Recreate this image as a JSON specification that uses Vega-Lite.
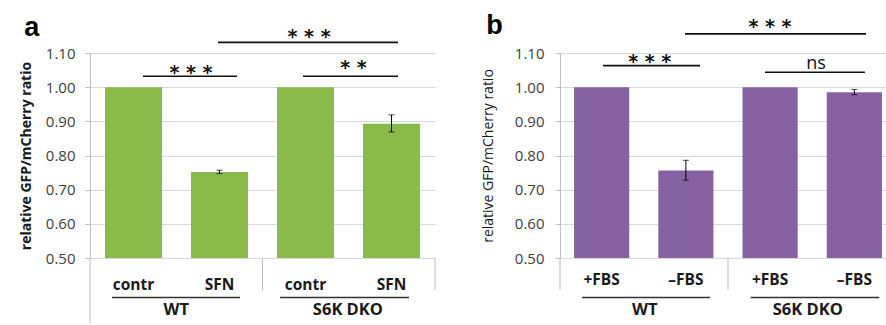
{
  "$schema": "https://vega.github.io/schema/vega-lite/v6.json",
  "background": "white",
  "padding": {"left": 19, "top": 12, "right": 0, "bottom": 0},
  "datasets": {
    "barsA": [
      {"id": "a1", "cond": "contr", "grp": "WT", "v": 1.0},
      {"id": "a2", "cond": "SFN", "grp": "WT", "v": 0.752, "lo": 0.747, "hi": 0.757},
      {"id": "a3", "cond": "contr", "grp": "S6K DKO", "v": 1.0},
      {"id": "a4", "cond": "SFN", "grp": "S6K DKO", "v": 0.893, "lo": 0.869, "hi": 0.919}
    ],
    "barsB": [
      {"id": "b1", "cond": "+FBS", "grp": "WT", "v": 1.0},
      {"id": "b2", "cond": "–FBS", "grp": "WT", "v": 0.756, "lo": 0.728, "hi": 0.786},
      {"id": "b3", "cond": "+FBS", "grp": "S6K DKO", "v": 1.0},
      {"id": "b4", "cond": "–FBS", "grp": "S6K DKO", "v": 0.985, "lo": 0.978, "hi": 0.993}
    ],
    "bracketsA": [
      {"x1": 0.614, "x2": 1.704, "ly": 1.032, "tx": 1.17, "ty": 1.025, "label": "* * *"},
      {"x1": 2.47, "x2": 3.571, "ly": 1.032, "tx": 3.055, "ty": 1.039, "label": "* *"},
      {"x1": 1.484, "x2": 3.571, "ly": 1.131, "tx": 2.54, "ty": 1.129, "label": "* * *"}
    ],
    "bracketsB": [
      {"x1": 0.512, "x2": 1.667, "ly": 1.063, "tx": 1.068, "ty": 1.056, "label": "* * *"},
      {"x1": 2.44, "x2": 3.63, "ly": 1.0435, "tx": 3.048, "ty": 1.053, "label": "ns"},
      {"x1": 1.488, "x2": 3.643, "ly": 1.156, "tx": 2.5, "ty": 1.1585, "label": "* * *"}
    ],
    "sepA": [
      {"sx": 0, "y1": 0.5, "y2": 0.307},
      {"sx": 2, "y1": 0.5, "y2": 0.406},
      {"sx": 4, "y1": 0.5, "y2": 0.406}
    ],
    "sepB": [
      {"sx": 0, "y1": 0.5, "y2": 0.406},
      {"sx": 2, "y1": 0.5, "y2": 0.406},
      {"sx": 4, "y1": 0.5, "y2": 0.406}
    ],
    "underA": [
      {"u1": 0.255, "u2": 1.739, "uy": 0.3845},
      {"u1": 2.203, "u2": 3.699, "uy": 0.3845}
    ],
    "underB": [
      {"u1": 0.262, "u2": 1.786, "uy": 0.3845},
      {"u1": 2.27, "u2": 3.8, "uy": 0.3845}
    ],
    "groupsA": [
      {"gx": 1.0, "gy": 0.3325, "grp": "WT"},
      {"gx": 2.99, "gy": 0.3325, "grp": "S6K DKO"}
    ],
    "groupsB": [
      {"gx": 1.01, "gy": 0.3325, "grp": "WT"},
      {"gx": 2.95, "gy": 0.3325, "grp": "S6K DKO"}
    ]
  },
  "spacing": 125,
  "bounds": "flush",
  "hconcat": [
    {
      "width": 345,
      "height": 205,
      "title": {"text": "a", "anchor": "start", "frame": "bounds", "font": "Liberation Sans", "fontSize": 27, "fontWeight": "bold", "color": "black", "offset": 0, "dx": 5, "dy": 14},
      "layer": [
        {
          "data": {"name": "barsA"},
          "encoding": {
            "x": {"field": "id", "type": "nominal", "sort": null,
              "scale": {"paddingInner": 0.337, "paddingOuter": 0.174},
              "axis": {"title": null, "labelExpr": "(datum.value == 'a1' || datum.value == 'a3') ? 'contr' : 'SFN'", "ticks": false, "tickSize": 0, "domain": false, "grid": false, "labelAngle": 0, "labelFont": "Open Sans", "labelFontSize": 15.5, "labelFontWeight": "bold", "labelColor": "#1a1a1a", "labelPadding": 19}}
          },
          "layer": [
            {"mark": {"type": "bar", "color": "#8BBA4B"},
              "encoding": {"y": {"field": "v", "type": "quantitative",
                "scale": {"domain": [0.5, 1.1], "nice": false, "zero": false},
                "axis": {"values": [0.5, 0.6, 0.7, 0.8, 0.9, 1.0, 1.1], "tickCount": 7, "format": ".2f", "labelOverlap": false, "labelBound": false, "title": "relative GFP/mCherry ratio", "grid": true, "gridColor": "#d9d9d9", "domainColor": "#bfbfbf", "tickColor": "#bfbfbf", "tickSize": 5, "labelFont": "Open Sans", "labelFontSize": 15, "labelColor": "#404040", "labelPadding": 10, "titleFont": "Open Sans", "titleFontSize": 14, "titleFontWeight": "bold", "titleColor": "#1a1a1a", "titlePadding": 12}},
                "y2": {"datum": 0.5}}},
            {"transform": [{"filter": "isValid(datum.lo)"}],
              "mark": {"type": "rule", "color": "black", "strokeWidth": 1},
              "encoding": {"y": {"field": "lo", "type": "quantitative", "scale": {"domain": [0.5, 1.1], "nice": false, "zero": false}}, "y2": {"field": "hi"}}},
            {"transform": [{"filter": "isValid(datum.lo)"}],
              "mark": {"type": "tick", "color": "black", "size": 6, "thickness": 1},
              "encoding": {"y": {"field": "lo", "type": "quantitative", "scale": {"domain": [0.5, 1.1], "nice": false, "zero": false}}}},
            {"transform": [{"filter": "isValid(datum.hi)"}],
              "mark": {"type": "tick", "color": "black", "size": 6, "thickness": 1},
              "encoding": {"y": {"field": "hi", "type": "quantitative", "scale": {"domain": [0.5, 1.1], "nice": false, "zero": false}}}}
          ]
        },
        {
          "layer": [
            {"data": {"name": "bracketsA"},
              "mark": {"type": "rule", "color": "#111111", "strokeWidth": 1.6},
              "encoding": {
                "x": {"field": "x1", "type": "quantitative", "scale": {"domain": [0, 4], "nice": false, "zero": false}, "axis": null},
                "x2": {"field": "x2"},
                "y": {"field": "ly", "type": "quantitative", "scale": {"domain": [0.5, 1.1], "nice": false, "zero": false}}}},
            {"data": {"name": "bracketsA"},
              "mark": {"type": "text", "font": "DejaVu Sans", "fontSize": 19, "fontWeight": "bold", "baseline": "alphabetic", "align": "center", "color": "#111111"},
              "encoding": {
                "x": {"field": "tx", "type": "quantitative", "scale": {"domain": [0, 4], "nice": false, "zero": false}, "axis": null},
                "y": {"field": "ty", "type": "quantitative", "scale": {"domain": [0.5, 1.1], "nice": false, "zero": false}},
                "text": {"field": "label"}}},
            {"data": {"name": "sepA"},
              "mark": {"type": "rule", "color": "#bfbfbf", "strokeWidth": 1},
              "encoding": {
                "x": {"field": "sx", "type": "quantitative", "scale": {"domain": [0, 4], "nice": false, "zero": false}, "axis": null},
                "y": {"field": "y1", "type": "quantitative", "scale": {"domain": [0.5, 1.1], "nice": false, "zero": false}},
                "y2": {"field": "y2"}}},
            {"data": {"name": "underA"},
              "mark": {"type": "rule", "color": "#333333", "strokeWidth": 1.6},
              "encoding": {
                "x": {"field": "u1", "type": "quantitative", "scale": {"domain": [0, 4], "nice": false, "zero": false}, "axis": null},
                "x2": {"field": "u2"},
                "y": {"field": "uy", "type": "quantitative", "scale": {"domain": [0.5, 1.1], "nice": false, "zero": false}}}},
            {"data": {"name": "groupsA"},
              "mark": {"type": "text", "font": "Open Sans", "fontSize": 16.5, "fontWeight": "bold", "baseline": "alphabetic", "align": "center", "color": "#1a1a1a"},
              "encoding": {
                "x": {"field": "gx", "type": "quantitative", "scale": {"domain": [0, 4], "nice": false, "zero": false}, "axis": null},
                "y": {"field": "gy", "type": "quantitative", "scale": {"domain": [0.5, 1.1], "nice": false, "zero": false}},
                "text": {"field": "grp"}}}
          ]
        }
      ],
      "resolve": {"scale": {"x": "independent"}, "axis": {"x": "independent"}}
    },
    {
      "width": 336,
      "height": 205,
      "title": {"text": "b", "anchor": "start", "frame": "bounds", "font": "Liberation Sans", "fontSize": 27, "fontWeight": "bold", "color": "black", "offset": 0, "dx": 5, "dy": 22},
      "layer": [
        {
          "data": {"name": "barsB"},
          "encoding": {
            "x": {"field": "id", "type": "nominal", "sort": null,
              "scale": {"paddingInner": 0.345, "paddingOuter": 0.167},
              "axis": {"title": null, "labelExpr": "(datum.value == 'b1' || datum.value == 'b3') ? '+FBS' : '–FBS'", "ticks": false, "tickSize": 0, "domain": false, "grid": false, "labelAngle": 0, "labelFont": "Open Sans", "labelFontSize": 15.5, "labelFontWeight": "bold", "labelColor": "#1a1a1a", "labelPadding": 14}}
          },
          "layer": [
            {"mark": {"type": "bar", "color": "#8662A3"},
              "encoding": {"y": {"field": "v", "type": "quantitative",
                "scale": {"domain": [0.5, 1.1], "nice": false, "zero": false},
                "axis": {"values": [0.5, 0.6, 0.7, 0.8, 0.9, 1.0, 1.1], "tickCount": 7, "format": ".2f", "labelOverlap": false, "labelBound": false, "title": "relative GFP/mCherry ratio", "grid": true, "gridColor": "#d9d9d9", "domainColor": "#bfbfbf", "tickColor": "#bfbfbf", "tickSize": 5, "labelFont": "Open Sans", "labelFontSize": 15, "labelColor": "#404040", "labelPadding": 11, "titleFont": "Open Sans", "titleFontSize": 14, "titleFontWeight": "normal", "titleColor": "#1a1a1a", "titlePadding": 19}},
                "y2": {"datum": 0.5}}},
            {"transform": [{"filter": "isValid(datum.lo)"}],
              "mark": {"type": "rule", "color": "black", "strokeWidth": 1},
              "encoding": {"y": {"field": "lo", "type": "quantitative", "scale": {"domain": [0.5, 1.1], "nice": false, "zero": false}}, "y2": {"field": "hi"}}},
            {"transform": [{"filter": "isValid(datum.lo)"}],
              "mark": {"type": "tick", "color": "black", "size": 6, "thickness": 1},
              "encoding": {"y": {"field": "lo", "type": "quantitative", "scale": {"domain": [0.5, 1.1], "nice": false, "zero": false}}}},
            {"transform": [{"filter": "isValid(datum.hi)"}],
              "mark": {"type": "tick", "color": "black", "size": 6, "thickness": 1},
              "encoding": {"y": {"field": "hi", "type": "quantitative", "scale": {"domain": [0.5, 1.1], "nice": false, "zero": false}}}}
          ]
        },
        {
          "layer": [
            {"data": {"name": "bracketsB"},
              "mark": {"type": "rule", "color": "#111111", "strokeWidth": 1.6},
              "encoding": {
                "x": {"field": "x1", "type": "quantitative", "scale": {"domain": [0, 4], "nice": false, "zero": false}, "axis": null},
                "x2": {"field": "x2"},
                "y": {"field": "ly", "type": "quantitative", "scale": {"domain": [0.5, 1.1], "nice": false, "zero": false}}}},
            {"data": {"name": "bracketsB"},
              "transform": [{"filter": "datum.label != 'ns'"}],
              "mark": {"type": "text", "font": "DejaVu Sans", "fontSize": 19, "fontWeight": "bold", "baseline": "alphabetic", "align": "center", "color": "#111111"},
              "encoding": {
                "x": {"field": "tx", "type": "quantitative", "scale": {"domain": [0, 4], "nice": false, "zero": false}, "axis": null},
                "y": {"field": "ty", "type": "quantitative", "scale": {"domain": [0.5, 1.1], "nice": false, "zero": false}},
                "text": {"field": "label"}}},
            {"data": {"name": "bracketsB"},
              "transform": [{"filter": "datum.label == 'ns'"}],
              "mark": {"type": "text", "font": "Open Sans", "fontSize": 18, "baseline": "alphabetic", "align": "center", "color": "#111111"},
              "encoding": {
                "x": {"field": "tx", "type": "quantitative", "scale": {"domain": [0, 4], "nice": false, "zero": false}, "axis": null},
                "y": {"field": "ty", "type": "quantitative", "scale": {"domain": [0.5, 1.1], "nice": false, "zero": false}},
                "text": {"field": "label"}}},
            {"data": {"name": "sepB"},
              "mark": {"type": "rule", "color": "#bfbfbf", "strokeWidth": 1},
              "encoding": {
                "x": {"field": "sx", "type": "quantitative", "scale": {"domain": [0, 4], "nice": false, "zero": false}, "axis": null},
                "y": {"field": "y1", "type": "quantitative", "scale": {"domain": [0.5, 1.1], "nice": false, "zero": false}},
                "y2": {"field": "y2"}}},
            {"data": {"name": "underB"},
              "mark": {"type": "rule", "color": "#333333", "strokeWidth": 1.6},
              "encoding": {
                "x": {"field": "u1", "type": "quantitative", "scale": {"domain": [0, 4], "nice": false, "zero": false}, "axis": null},
                "x2": {"field": "u2"},
                "y": {"field": "uy", "type": "quantitative", "scale": {"domain": [0.5, 1.1], "nice": false, "zero": false}}}},
            {"data": {"name": "groupsB"},
              "mark": {"type": "text", "font": "Open Sans", "fontSize": 16.5, "fontWeight": "bold", "baseline": "alphabetic", "align": "center", "color": "#1a1a1a"},
              "encoding": {
                "x": {"field": "gx", "type": "quantitative", "scale": {"domain": [0, 4], "nice": false, "zero": false}, "axis": null},
                "y": {"field": "gy", "type": "quantitative", "scale": {"domain": [0.5, 1.1], "nice": false, "zero": false}},
                "text": {"field": "grp"}}}
          ]
        }
      ],
      "resolve": {"scale": {"x": "independent"}, "axis": {"x": "independent"}}
    }
  ],
  "config": {"view": {"stroke": null}, "font": "Open Sans", "axis": {"labelOverlap": false}, "axisY": {"labelOverlap": false}, "axisQuantitative": {"labelOverlap": false}}
}
